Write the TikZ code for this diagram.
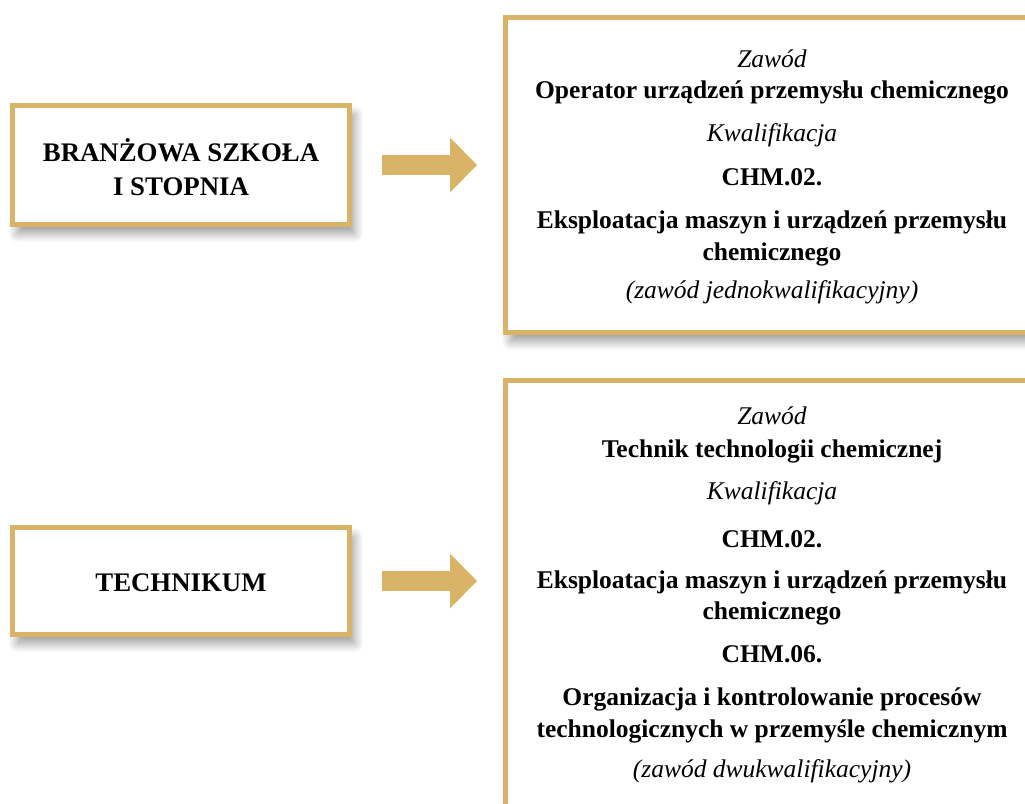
\documentclass[tikz,border=0pt]{standalone}
\usepackage{fontspec}
\setmainfont{Liberation Serif}
\usetikzlibrary{shadows.blur,arrows.meta}
\definecolor{gold}{RGB}{217,180,104}
\begin{document}
\begin{tikzpicture}[x=1pt,y=-1pt,
  box/.style={draw=gold, line width=5pt, fill=white, inner sep=0pt,
    blur shadow={shadow xshift=5pt, shadow yshift=-9pt, shadow blur steps=14,
      shadow blur radius=9pt, shadow opacity=40}},
  bigarrow/.style={draw=gold, line width=20pt,
    -{Triangle[length=27pt,width=55pt,line width=0pt]},
    shorten <=30pt, shorten >=26pt},
  ttl/.style={font=\fontsize{26.8}{34}\selectfont\bfseries, align=center},
  bd/.style={font=\fontsize{25.5}{32}\selectfont\bfseries, anchor=base, inner sep=0pt},
  it/.style={font=\fontsize{25.5}{32}\selectfont\itshape, anchor=base, inner sep=0pt}]
\useasboundingbox (0,0) rectangle (1025,803);
\clip (0,0) rectangle (1025,803);
% boxes
\node[box, minimum width=337pt, minimum height=119pt] (b1) at (181,165) {};
\node[box, minimum width=337pt, minimum height=107pt] (b2) at (181,581) {};
\node[box, minimum width=535pt, minimum height=315pt] (r1) at (773,175) {};
\node[box, minimum width=535pt, minimum height=520pt] (r2) at (773,640) {};
% left titles
\node[ttl] (t1) at (181,167) {BRANŻOWA SZKOŁA\\I STOPNIA};
\node[ttl] (t2) at (181,583) {TECHNIKUM};
% arrows
\draw[bigarrow] (b1.east) -- (b1.east -| r1.west);
\draw[bigarrow] (b2.east) -- (b2.east -| r2.west);
% right box 1 texts
\node[it] (a1) at (772,67)  {Zawód};
\node[bd] (a2) at (772,98)  {Operator urządzeń przemysłu chemicznego};
\node[it] (a3) at (772,141) {Kwalifikacja};
\node[bd] (a4) at (772,185) {CHM.02.};
\node[bd] (a5) at (772,228) {Eksploatacja maszyn i urządzeń przemysłu};
\node[bd] (a6) at (772,260) {chemicznego};
\node[it] (a7) at (772,298) {(zawód jednokwalifikacyjny)};
% right box 2 texts
\node[it] (c1) at (772,424) {Zawód};
\node[bd] (c2) at (772,457) {Technik technologii chemicznej};
\node[it] (c3) at (772,499) {Kwalifikacja};
\node[bd] (c4) at (772,547) {CHM.02.};
\node[bd] (c5) at (772,588) {Eksploatacja maszyn i urządzeń przemysłu};
\node[bd] (c6) at (772,619) {chemicznego};
\node[bd] (c7) at (772,662) {CHM.06.};
\node[bd] (c8) at (772,705) {Organizacja i kontrolowanie procesów};
\node[bd] (c9) at (772,737) {technologicznych w przemyśle chemicznym};
\node[it] (c10) at (772,777) {(zawód dwukwalifikacyjny)};
\end{tikzpicture}
\end{document}
